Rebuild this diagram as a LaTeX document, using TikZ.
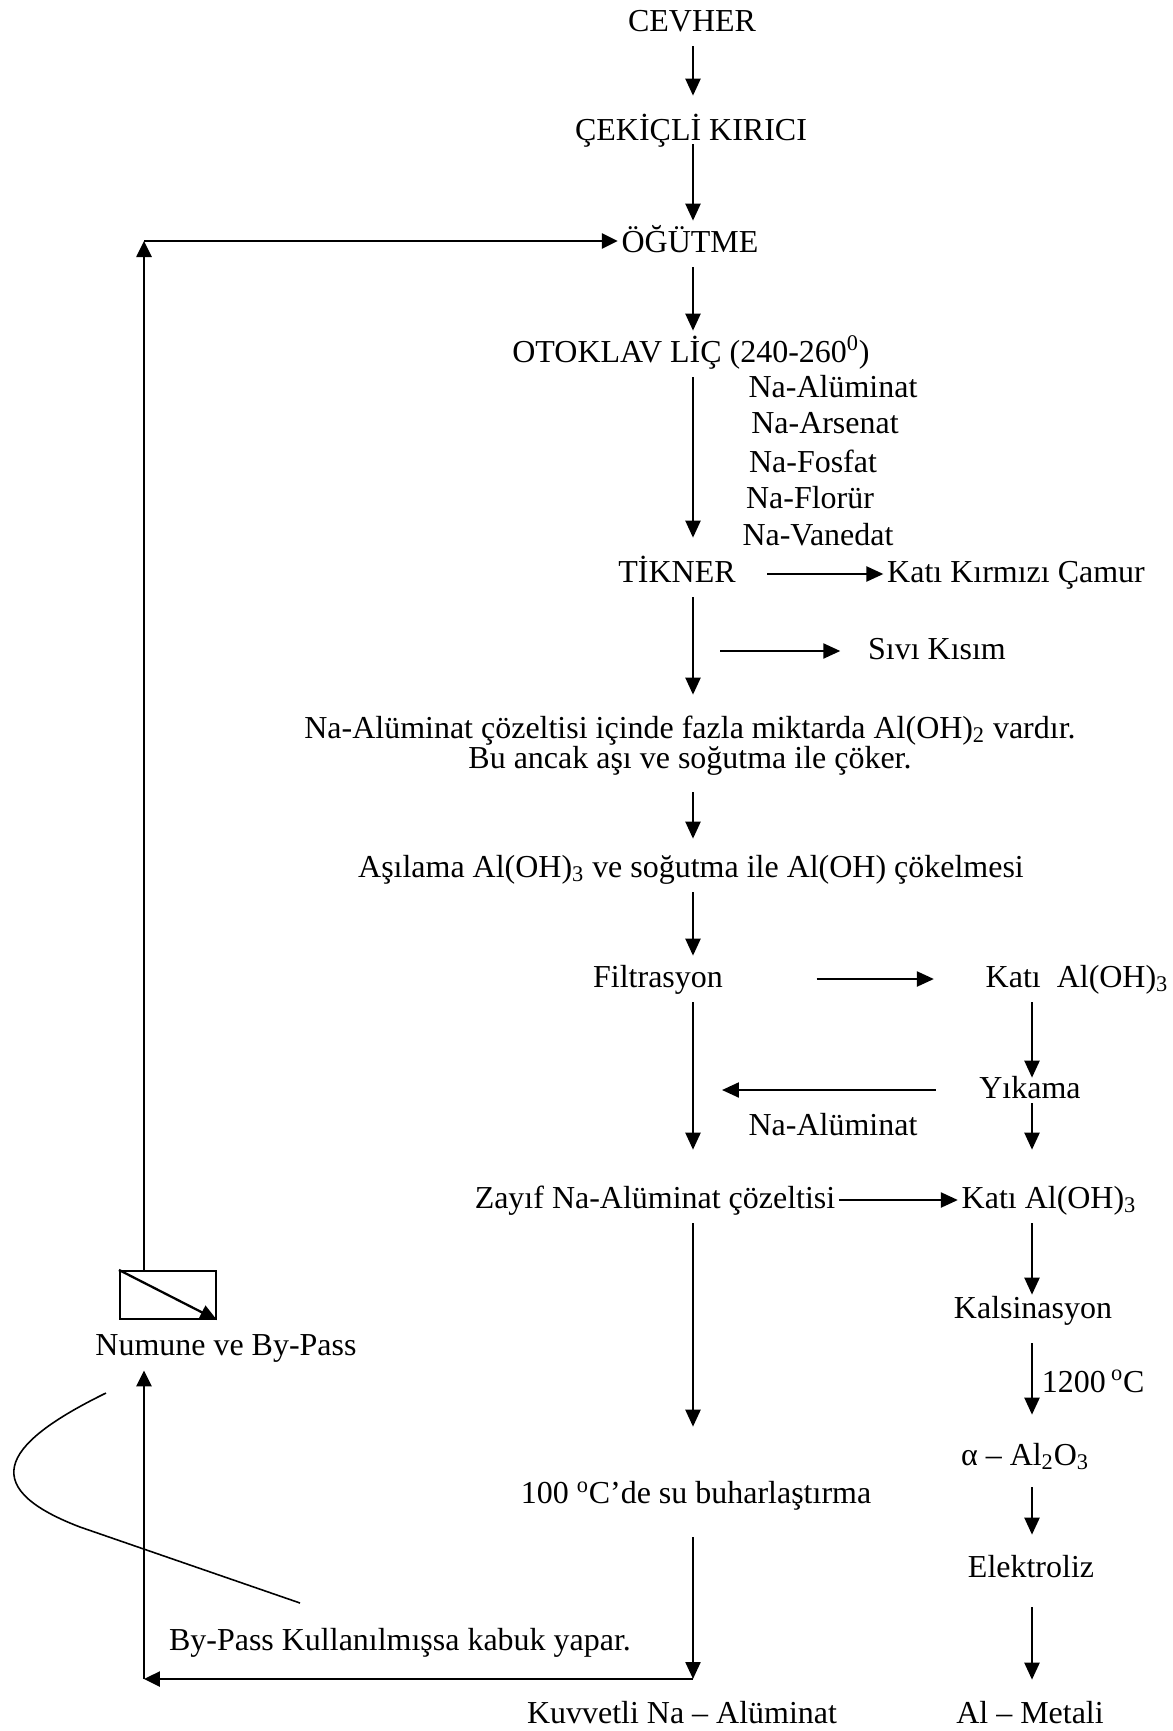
\documentclass[tikz,border=0pt]{standalone}
\usepackage{fontspec}
\setmainfont{Liberation Serif}
\usepackage{tikz}
\usetikzlibrary{arrows.meta}

\begin{document}
\begin{tikzpicture}[x=0.02cm, y=-0.02cm, font=\fontsize{18.2pt}{22pt}\selectfont]
        % Setup the styles for the stages and the arrows
        \tikzset{stage/.style={inner xsep=2pt,
                               inner ysep=0.16cm,
                               text height=0.46cm,
                               text depth=0.14cm},
                 flow/.style={line width=1.3pt,
                              -{Triangle[length=0.34cm, width=0.3cm]}},
                 loop line/.style={line width=1.5pt,
                                   -{Triangle[length=0.32cm, width=0.3cm]}}}
        \useasboundingbox (0,0) rectangle (1173,1731);

        % Columns of the arrows
        \coordinate (ax) at (693,0);
        \coordinate (bx) at (1032,0);
        \coordinate (corner) at (144,241);
        \coordinate (bl) at (144,1679);

        % Draw the stages
        \node[stage] at (692,23) (cevher) {CEVHER};
        \node[stage] at (691,132) (kirici) {ÇEKİÇLİ KIRICI};
        \node[stage] at (690,244) (ogutme) {ÖĞÜTME};
        \node[stage] at (691,354) (otoklav) {OTOKLAV LİÇ (240-260\textsuperscript{0})};
        \node[stage] at (833,389) (na1) {Na-Alüminat};
        \node[stage] at (825,425) (na2) {Na-Arsenat};
        \node[stage] at (813,464) (na3) {Na-Fosfat};
        \node[stage] at (810,500) (na4) {Na-Florür};
        \node[stage] at (818,537) (na5) {Na-Vanedat};
        \node[stage] at (677,574) (tikner) {TİKNER};
        \node[stage] at (1016,574) (camur) {Katı Kırmızı Çamur};
        \node[stage] at (937,651) (sivi) {Sıvı Kısım};
        \node[stage] at (690,730) (coz1) {Na-Alüminat çözeltisi içinde fazla miktarda Al(OH)\textsubscript{2} vardır.};
        \node[stage] at (690,760) (coz2) {Bu ancak aşı ve soğutma ile çöker.};
        \node[stage] at (691,869) (asilama) {Aşılama Al(OH)\textsubscript{3} ve soğutma ile Al(OH) çökelmesi};
        \node[stage] at (658,979) (filtre) {Filtrasyon};
        \node[stage] at (1077,979) (kati1) {Katı\ \ Al(OH)\textsubscript{3}};
        \node[stage] at (1030,1090) (yikama) {Yıkama};
        \node[stage] at (833,1127) (naalum) {Na-Alüminat};
        \node[stage] at (655,1200) (zayif) {Zayıf Na-Alüminat çözeltisi};
        \node[stage] at (1049,1200) (kati2) {Katı Al(OH)\textsubscript{3}};
        \node[stage] at (1033,1310) (kalsin) {Kalsinasyon};
        \node[stage, anchor=west] at (1038,1384) (derece) {1200\,\textsuperscript{o}C};
        \node[stage] at (1025,1457) (alumina) {α -- Al\textsubscript{2}O\textsubscript{3}};
        \node[stage] at (1031,1569) (elektroliz) {Elektroliz};
        \node[stage] at (1030,1715) (metal) {Al -- Metali};
        \node[stage] at (696,1495) (buhar) {100 \textsuperscript{o}C’de su buharlaştırma};
        \node[stage] at (682,1715) (kuvvetli) {Kuvvetli Na -- Alüminat};
        \node[stage] at (226,1347) (numune) {Numune ve By-Pass};
        \node[stage] at (400,1642) (bypass) {By-Pass Kullanılmışsa kabuk yapar.};
        \node[draw, line width=1.2pt, minimum width=1.92cm,
              minimum height=0.96cm, inner sep=0pt] at (168,1295) (box) {};

        % Main flow
        \draw[flow] (cevher.south -| ax) -- ([yshift=0.26cm]kirici.north -| ax);
        \draw[flow] ([yshift=0.22cm]kirici.south -| ax) -- (ogutme.north -| ax);
        \draw[flow] (ogutme.south -| ax) -- (otoklav.north -| ax);
        \draw[flow] (otoklav.south -| ax) -- ([yshift=0.26cm]tikner.north -| ax);
        \draw[flow] (tikner.south -| ax) -- ([yshift=0.24cm]coz1.north -| ax);
        \draw[flow] ([yshift=-0.18cm]coz2.south -| ax) -- ([yshift=0.14cm]asilama.north -| ax);
        \draw[flow] (asilama.south -| ax) -- (filtre.north -| ax);
        \draw[flow] (filtre.south -| ax) -- ([yshift=0.54cm]zayif.north -| ax);
        \draw[flow] (zayif.south -| ax) -- ([yshift=0.9cm]buhar.north -| ax);
        \draw[flow] ([yshift=-0.38cm]buhar.south -| ax) -- (bl -| ax);

        % Side streams
        \draw[flow] ([xshift=0.56cm]tikner.east) -- (camur.west);
        \draw[flow] ([xshift=0.54cm]sivi -| ax) -- ([xshift=-0.48cm]sivi.west);
        \draw[flow] ([xshift=1.8cm]filtre.east) -- ([xshift=-0.96cm]kati1.west);
        \draw[flow] ([xshift=-0.8cm]yikama.west) -- ([xshift=0.58cm]yikama -| ax);
        \draw[flow] (zayif.east) -- (kati2.west);

        % Right column
        \draw[flow] (kati1.south -| bx) -- ([yshift=-0.22cm]yikama.north -| bx);
        \draw[flow] ([yshift=0.2cm]yikama.south -| bx) -- ([yshift=0.54cm]kati2.north -| bx);
        \draw[flow] (kati2.south -| bx) -- ([yshift=-0.16cm]kalsin.north -| bx);
        \draw[flow] ([yshift=-0.2cm]kalsin.south -| bx) -- ([yshift=0.38cm]alumina.north -| bx);
        \draw[flow] ([yshift=-0.14cm]alumina.south -| bx) -- ([yshift=0.22cm]elektroliz.north -| bx);
        \draw[flow] ([yshift=-0.3cm]elektroliz.south -| bx) -- ([yshift=0.24cm]metal.north -| bx);

        % Recycle loop
        \draw[loop line] (bl -| ax) -- (bl);
        \draw[loop line] (bl) -- (numune.south -| bl);
        \draw[loop line] (box.north -| bl) -- (corner);
        \draw[loop line] (corner) -- (corner -| ogutme.west);
        \draw[flow] (box.north west) -- (box.south east);

        % Note pointer
        \coordinate (note start) at (106,1393);
        \coordinate (note end) at (300,1603);
        \draw[line width=0.9pt] (note start) .. controls (10,1440) and (-30,1485) .. (80,1527) -- (note end);
\end{tikzpicture}
\end{document}
